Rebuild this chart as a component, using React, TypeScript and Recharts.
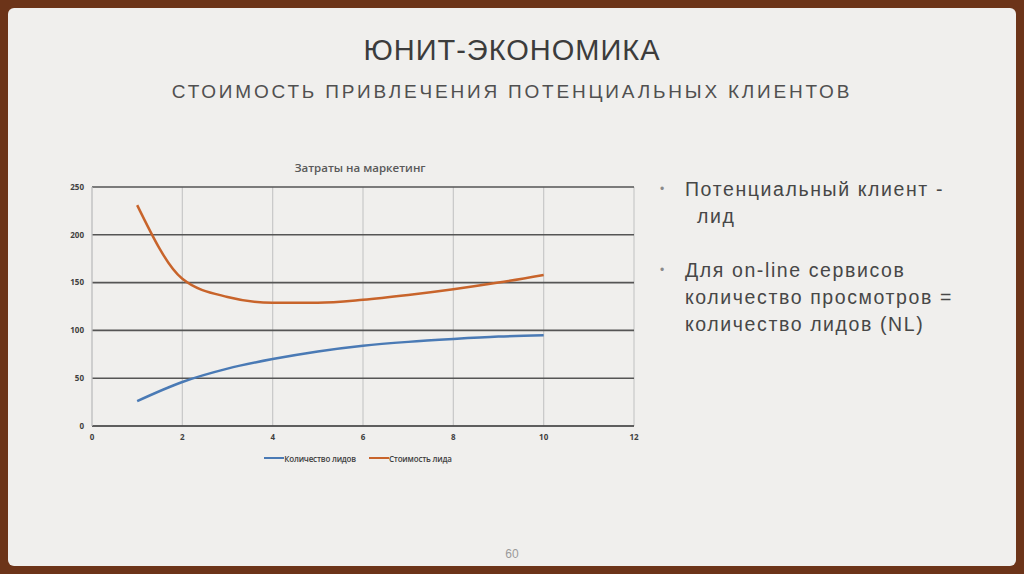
import { LineChart, Line, XAxis, YAxis, CartesianGrid, Legend } from 'recharts';

const X_VALUES = [1, 2, 3, 4, 5, 6, 7, 8, 9, 10];
const LEADS = [26, 46, 60, 70, 78, 84, 88, 91, 93.5, 95];
const LEAD_COST = [231, 154, 135, 129, 129, 132, 137, 143, 150, 158];
const X_TICKS = [0, 2, 4, 6, 8, 10, 12];
const Y_TICKS = [0, 50, 100, 150, 200, 250];

const SERIES = [
  { key: 'leads', name: 'Количество лидов', color: '#4a7ab5' },
  { key: 'cost', name: 'Стоимость лида', color: '#c8642b' },
];

const chartData = X_VALUES.map((x, i) => ({ x, leads: LEADS[i], cost: LEAD_COST[i] }));

const chartFont = '"Open Sans", "Liberation Sans", sans-serif';
const slideFont = '"Liberation Sans", Arial, sans-serif';

const tickStyle = { fontSize: 8, fontWeight: 700, fill: '#404040', fontFamily: chartFont };

const renderLegend = () => (
  <div style={{ display: 'flex', justifyContent: 'center', alignItems: 'center', gap: 13, height: 24, paddingLeft: 22, fontFamily: chartFont, fontSize: 8, fontWeight: 600, letterSpacing: -0.2, color: '#404040' }}>
    {SERIES.map((s) => (
      <div key={s.key} style={{ display: 'flex', alignItems: 'center' }}>
        <div style={{ width: 20, height: 2.5, background: s.color }} />
        <span>{s.name}</span>
      </div>
    ))}
  </div>
);

export default function App() {
  return (
    <div style={{ position: 'absolute', left: 0, top: 0, width: 1024, height: 574, background: '#6c3419', overflow: 'hidden' }}>
      <div style={{ position: 'absolute', left: 8, top: 8, width: 1008, height: 558, background: '#f0efed', borderRadius: 6 }} />

      <div style={{ position: 'absolute', left: 0, width: 1024, top: 34, textAlign: 'center', fontFamily: slideFont, fontSize: 29, color: '#3c3c3c', letterSpacing: 1 }}>
        ЮНИТ-ЭКОНОМИКА
      </div>
      <div style={{ position: 'absolute', left: 0, width: 1024, top: 81, textAlign: 'center', fontFamily: slideFont, fontSize: 19, color: '#505050', letterSpacing: 2.8 }}>
        СТОИМОСТЬ ПРИВЛЕЧЕНИЯ ПОТЕНЦИАЛЬНЫХ КЛИЕНТОВ
      </div>

      <div style={{ position: 'absolute', left: 60, width: 600, top: 160, textAlign: 'center', fontFamily: chartFont, fontSize: 11.5, fontWeight: 600, color: '#595959' }}>
        Затраты на маркетинг
      </div>

      <div style={{ position: 'absolute', left: 60, top: 150 }}>
        <LineChart width={600} height={320} data={chartData} margin={{ top: 37, right: 26, left: 0, bottom: 0 }}>
          <CartesianGrid horizontal={false} stroke="#c8c8c8" strokeWidth={1.2} />
          <CartesianGrid vertical={false} stroke="#555555" strokeWidth={1.6} />
          <XAxis
            dataKey="x"
            type="number"
            domain={[0, 12]}
            ticks={X_TICKS}
            tickLine={false}
            axisLine={{ stroke: '#555555', strokeWidth: 1.6 }}
            tick={tickStyle}
            height={20}
          />
          <YAxis
            type="number"
            domain={[0, 250]}
            ticks={Y_TICKS}
            tickLine={false}
            axisLine={{ stroke: '#c8c8c8', strokeWidth: 1.2 }}
            tick={tickStyle}
            width={32}
          />
          {SERIES.map((s) => (
            <Line
              key={s.key}
              dataKey={s.key}
              name={s.name}
              type="monotone"
              stroke={s.color}
              strokeWidth={2.5}
              dot={false}
              isAnimationActive={false}
            />
          ))}
          <Legend verticalAlign="bottom" height={24} content={renderLegend} />
        </LineChart>
      </div>

      <div style={{ position: 'absolute', left: 660, top: 176, width: 350, fontFamily: slideFont, fontSize: 19.5, letterSpacing: 1.6, color: '#474747', lineHeight: '27px' }}>
        <div style={{ display: 'flex' }}>
          <span style={{ width: 25, fontSize: 12, color: '#8a8a8a' }}>•</span>
          <span>Потенциальный клиент -<br /><span style={{ paddingLeft: 12 }}>лид</span></span>
        </div>
        <div style={{ display: 'flex', marginTop: 27 }}>
          <span style={{ width: 25, fontSize: 12, color: '#8a8a8a' }}>•</span>
          <span>Для on-line сервисов<br />количество просмотров =<br />количество лидов (NL)</span>
        </div>
      </div>

      <div style={{ position: 'absolute', left: 0, width: 1024, top: 547, textAlign: 'center', fontFamily: slideFont, fontSize: 12, color: '#9a9a9a' }}>
        60
      </div>
    </div>
  );
}
